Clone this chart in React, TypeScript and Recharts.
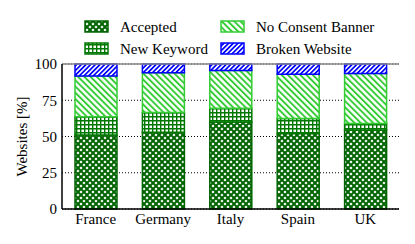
import React from 'react';
import { BarChart, Bar, XAxis, YAxis, CartesianGrid, ReferenceLine } from 'recharts';

const countries = ['France', 'Germany', 'Italy', 'Spain', 'UK'];
const accepted = [51, 53, 60, 52, 54.5];
const newKeyword = [12.7, 13.5, 9.5, 10.5, 4.5];
const noConsent = [28, 27.5, 26, 30.5, 34.5];
const broken = [8.3, 6, 4.5, 7, 6.5];
const yTicks = [0, 25, 50, 75, 100];

const data = countries.map((country, i) => ({
  country,
  accepted: accepted[i],
  newKeyword: newKeyword[i],
  noConsent: noConsent[i],
  broken: broken[i],
}));

const series = [
  { key: 'accepted', name: 'Accepted', color: '#006400', pat: 'acc' },
  { key: 'newKeyword', name: 'New Keyword', color: '#007800', pat: 'nk' },
  { key: 'noConsent', name: 'No Consent Banner', color: '#33cc33', pat: 'ncb' },
  { key: 'broken', name: 'Broken Website', color: '#0000ff', pat: 'brk' },
];

const FONT = "'Liberation Serif', 'Times New Roman', 'DejaVu Serif', serif";
const textStyle = { fontFamily: FONT, fontSize: 15 };

const Patterns = ({ p }: { p: string }) => (
  <defs>
    <pattern id={`${p}acc`} patternUnits="userSpaceOnUse" width="6" height="6">
      <rect width="6" height="6" fill="#fff" />
      <path d="M-1,-1 L7,7 M7,-1 L-1,7" stroke="#006400" strokeWidth="2" />
    </pattern>
    <pattern id={`${p}nk`} patternUnits="userSpaceOnUse" width="4" height="4">
      <rect width="4" height="4" fill="#fff" />
      <path d="M0.7,0 L0.7,4 M0,0.7 L4,0.7" stroke="#007800" strokeWidth="1.4" />
    </pattern>
    <pattern id={`${p}ncb`} patternUnits="userSpaceOnUse" width="4.4" height="4.4" patternTransform="rotate(-45)">
      <rect width="4.4" height="4.4" fill="#fff" />
      <rect width="1.9" height="4.4" fill="#33cc33" />
    </pattern>
    <pattern id={`${p}brk`} patternUnits="userSpaceOnUse" width="3.3" height="3.3" patternTransform="rotate(45)">
      <rect width="3.3" height="3.3" fill="#fff" />
      <rect width="1.7" height="3.3" fill="#0000ff" />
    </pattern>
  </defs>
);

const YLabel = (props: any) => {
  const { viewBox } = props;
  const cx = 22;
  const cy = viewBox.y + viewBox.height / 2;
  return (
    <text x={cx} y={cy} transform={`rotate(-90 ${cx} ${cy})`} textAnchor="middle" dominantBaseline="central"
      style={textStyle} fill="#000">
      Websites [%]
    </text>
  );
};

const Legend2 = () => {
  const cols = [85, 221];
  const rows = [21, 43];
  return (
    <svg width={415} height={60} style={{ position: 'absolute', left: 0, top: 0 }}>
      <Patterns p="lg" />
      {series.map((s, i) => {
        const x = cols[Math.floor(i / 2)];
        const y = rows[i % 2];
        return (
          <g key={s.key}>
            <rect x={x} y={y} width={23} height={11} fill={`url(#lg${s.pat})`} stroke={s.color} strokeWidth={1.5} />
            <text x={x + 35} y={y + 6} dominantBaseline="central" style={textStyle} fill="#000">
              {s.name}
            </text>
          </g>
        );
      })}
    </svg>
  );
};

export default function App() {
  return (
    <div style={{ position: 'absolute', left: 0, top: 0, width: 415, height: 244, background: '#fff', fontFamily: FONT }}>
      <BarChart width={415} height={244} data={data} margin={{ top: 64, right: 16, bottom: 5, left: 2 }} barSize={42}>
        <Patterns p="ch" />
        <CartesianGrid vertical={false} stroke="#000" strokeDasharray="1 2" strokeWidth={1} />
        <XAxis dataKey="country" tickLine={false} tickSize={0} tickMargin={4}
          axisLine={{ stroke: '#000', strokeWidth: 1.5 }}
          tick={{ style: textStyle, fill: '#000' }} />
        <YAxis domain={[0, 100]} ticks={yTicks} width={60} tickLine={false} tickSize={0} tickMargin={5}
          axisLine={{ stroke: '#000', strokeWidth: 1.5 }}
          tick={{ style: textStyle, fill: '#000' }}
          label={<YLabel />} />
        <YAxis yAxisId="right" orientation="right" width={0} domain={[0, 100]} tick={false} tickLine={false}
          axisLine={{ stroke: '#444', strokeWidth: 1.5 }} />
        {series.map((s) => (
          <Bar key={s.key} dataKey={s.key} name={s.name} stackId="a" fill={`url(#ch${s.pat})`}
            stroke={s.color} strokeWidth={1.5} isAnimationActive={false} />
        ))}
        <ReferenceLine y={100} stroke="#888" strokeWidth={1.5} />
      </BarChart>
      <Legend2 />
    </div>
  );
}
